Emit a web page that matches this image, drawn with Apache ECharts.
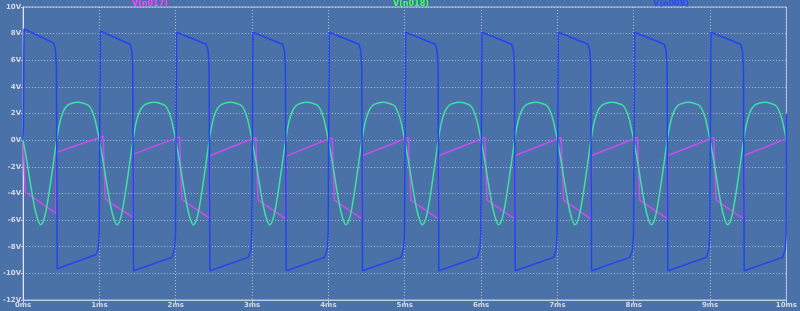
<!DOCTYPE html>
<html>
<head>
<meta charset="utf-8">
<script src="https://cdn.jsdelivr.net/npm/echarts@6/dist/echarts.min.js"></script>
<style>
  html, body { margin: 0; padding: 0; background: #4a72a8; }
  #chart { width: 800px; height: 311px; }
</style>
</head>
<body>
<div id="chart"></div>
<script>
// trace names
const traceNames = ['V(n017)', 'V(n018)', 'V(n008)'];

// axis ticks
const timeTicks = ['0ms', '1ms', '2ms', '3ms', '4ms', '5ms', '6ms', '7ms', '8ms', '9ms', '10ms'];
const voltTicks = [-12, -10, -8, -6, -4, -2, 0, 2, 4, 6, 8, 10];

// magenta trace (ms, V)
const magT = [
    0, 0.03, 0.43, 0.44,
    1.05, 1.065, 1.08, 1.44, 1.447,
    2.05, 2.065, 2.08, 2.44, 2.447,
    3.05, 3.065, 3.08, 3.44, 3.447,
    4.05, 4.065, 4.08, 4.44, 4.447,
    5.05, 5.065, 5.08, 5.44, 5.447,
    6.05, 6.065, 6.08, 6.44, 6.447,
    7.05, 7.065, 7.08, 7.44, 7.447,
    8.05, 8.065, 8.08, 8.44, 8.447,
    9.05, 9.065, 9.08, 9.44, 9.447,
    10
];
const magV = [
    0, -3.9, -5.5, -0.9,
    0.3, -2.5, -4.45, -5.8, -1.05,
    0.25, -2.5, -4.45, -5.85, -1.15,
    0.2, -2.5, -4.5, -5.9, -1.2,
    0.2, -2.5, -4.5, -5.9, -1.15,
    0.2, -2.5, -4.5, -5.9, -1.15,
    0.2, -2.5, -4.5, -5.9, -1.15,
    0.2, -2.5, -4.5, -5.9, -1.15,
    0.2, -2.5, -4.5, -5.9, -1.15,
    0.2, -2.5, -4.5, -5.9, -1.15,
    0.12
];

// green trace (ms, V)
const grnT = [
    0, 0.05, 0.10, 0.15, 0.19, 0.23, 0.27, 0.31, 0.36, 0.40, 0.44, 0.48, 0.53, 0.58, 0.63, 0.72, 0.80, 0.86, 0.90, 0.94, 0.97,
    1, 1.05, 1.10, 1.15, 1.19, 1.23, 1.27, 1.31, 1.36, 1.40, 1.44, 1.48, 1.53, 1.58, 1.63, 1.72, 1.80, 1.86, 1.90, 1.94, 1.97,
    2, 2.05, 2.10, 2.15, 2.19, 2.23, 2.27, 2.31, 2.36, 2.40, 2.44, 2.48, 2.53, 2.58, 2.63, 2.72, 2.80, 2.86, 2.90, 2.94, 2.97,
    3, 3.05, 3.10, 3.15, 3.19, 3.23, 3.27, 3.31, 3.36, 3.40, 3.44, 3.48, 3.53, 3.58, 3.63, 3.72, 3.80, 3.86, 3.90, 3.94, 3.97,
    4, 4.05, 4.10, 4.15, 4.19, 4.23, 4.27, 4.31, 4.36, 4.40, 4.44, 4.48, 4.53, 4.58, 4.63, 4.72, 4.80, 4.86, 4.90, 4.94, 4.97,
    5, 5.05, 5.10, 5.15, 5.19, 5.23, 5.27, 5.31, 5.36, 5.40, 5.44, 5.48, 5.53, 5.58, 5.63, 5.72, 5.80, 5.86, 5.90, 5.94, 5.97,
    6, 6.05, 6.10, 6.15, 6.19, 6.23, 6.27, 6.31, 6.36, 6.40, 6.44, 6.48, 6.53, 6.58, 6.63, 6.72, 6.80, 6.86, 6.90, 6.94, 6.97,
    7, 7.05, 7.10, 7.15, 7.19, 7.23, 7.27, 7.31, 7.36, 7.40, 7.44, 7.48, 7.53, 7.58, 7.63, 7.72, 7.80, 7.86, 7.90, 7.94, 7.97,
    8, 8.05, 8.10, 8.15, 8.19, 8.23, 8.27, 8.31, 8.36, 8.40, 8.44, 8.48, 8.53, 8.58, 8.63, 8.72, 8.80, 8.86, 8.90, 8.94, 8.97,
    9, 9.05, 9.10, 9.15, 9.19, 9.23, 9.27, 9.31, 9.36, 9.40, 9.44, 9.48, 9.53, 9.58, 9.63, 9.72, 9.80, 9.86, 9.90, 9.94, 9.97,
    10
];
const grnV = [
    0, -1.6, -3.4, -5.0, -5.9, -6.35, -6.0, -5.0, -3.2, -1.6, 0, 1.3, 2.2, 2.6, 2.75, 2.85, 2.75, 2.6, 2.25, 1.6, 0.85,
    0, -1.6, -3.4, -5.0, -5.9, -6.35, -6.0, -5.0, -3.2, -1.6, 0, 1.3, 2.2, 2.6, 2.75, 2.85, 2.75, 2.6, 2.25, 1.6, 0.85,
    0, -1.6, -3.4, -5.0, -5.9, -6.35, -6.0, -5.0, -3.2, -1.6, 0, 1.3, 2.2, 2.6, 2.75, 2.85, 2.75, 2.6, 2.25, 1.6, 0.85,
    0, -1.6, -3.4, -5.0, -5.9, -6.35, -6.0, -5.0, -3.2, -1.6, 0, 1.3, 2.2, 2.6, 2.75, 2.85, 2.75, 2.6, 2.25, 1.6, 0.85,
    0, -1.6, -3.4, -5.0, -5.9, -6.35, -6.0, -5.0, -3.2, -1.6, 0, 1.3, 2.2, 2.6, 2.75, 2.85, 2.75, 2.6, 2.25, 1.6, 0.85,
    0, -1.6, -3.4, -5.0, -5.9, -6.35, -6.0, -5.0, -3.2, -1.6, 0, 1.3, 2.2, 2.6, 2.75, 2.85, 2.75, 2.6, 2.25, 1.6, 0.85,
    0, -1.6, -3.4, -5.0, -5.9, -6.35, -6.0, -5.0, -3.2, -1.6, 0, 1.3, 2.2, 2.6, 2.75, 2.85, 2.75, 2.6, 2.25, 1.6, 0.85,
    0, -1.6, -3.4, -5.0, -5.9, -6.35, -6.0, -5.0, -3.2, -1.6, 0, 1.3, 2.2, 2.6, 2.75, 2.85, 2.75, 2.6, 2.25, 1.6, 0.85,
    0, -1.6, -3.4, -5.0, -5.9, -6.35, -6.0, -5.0, -3.2, -1.6, 0, 1.3, 2.2, 2.6, 2.75, 2.85, 2.75, 2.6, 2.25, 1.6, 0.85,
    0, -1.6, -3.4, -5.0, -5.9, -6.35, -6.0, -5.0, -3.2, -1.6, 0, 1.3, 2.2, 2.6, 2.75, 2.85, 2.75, 2.6, 2.25, 1.6, 0.85,
    0
];

// blue trace (ms, V)
const bluT = [
    0, 0.004, 0.012, 0.40, 0.425, 0.437, 0.447, 0.95, 0.985, 0.997,
    1.012, 1.40, 1.425, 1.437, 1.447, 1.95, 1.985, 1.997,
    2.012, 2.40, 2.425, 2.437, 2.447, 2.95, 2.985, 2.997,
    3.012, 3.40, 3.425, 3.437, 3.447, 3.95, 3.985, 3.997,
    4.012, 4.40, 4.425, 4.437, 4.447, 4.95, 4.985, 4.997,
    5.012, 5.40, 5.425, 5.437, 5.447, 5.95, 5.985, 5.997,
    6.012, 6.40, 6.425, 6.437, 6.447, 6.95, 6.985, 6.997,
    7.012, 7.40, 7.425, 7.437, 7.447, 7.95, 7.985, 7.997,
    8.012, 8.40, 8.425, 8.437, 8.447, 8.95, 8.985, 8.997,
    9.012, 9.40, 9.425, 9.437, 9.447, 9.95, 9.985, 9.997,
    10
];
const bluV = [
    0, 1.0, 8.35, 7.3, 6.8, 5.5, -9.65, -8.6, -8.2, -7.0,
    8.2, 7.2, 6.7, 5.5, -9.8, -8.8, -8.2, -7.0,
    8.1, 7.2, 6.7, 5.5, -9.8, -8.8, -8.2, -7.0,
    8.1, 7.2, 6.7, 5.5, -9.8, -8.8, -8.2, -7.0,
    8.1, 7.2, 6.7, 5.5, -9.8, -8.8, -8.2, -7.0,
    8.1, 7.2, 6.7, 5.5, -9.8, -8.8, -8.2, -7.0,
    8.1, 7.2, 6.7, 5.5, -9.8, -8.8, -8.2, -7.0,
    8.1, 7.2, 6.7, 5.5, -9.8, -8.8, -8.2, -7.0,
    8.1, 7.2, 6.7, 5.5, -9.8, -8.8, -8.2, -7.0,
    8.1, 7.2, 6.7, 5.5, -9.8, -8.8, -8.2, -7.0,
    2
];

const pair = (ts, vs) => ts.map((t, i) => [t, vs[i]]);

const chart = echarts.init(document.getElementById('chart'));
const labelColor = '#d4dbe8';
const gridColor = 'rgba(205,214,230,0.75)';

const option = {
    animation: false,
    backgroundColor: '#4a72a8',
    grid: {
        left: 16, right: 8, top: 7, bottom: 11,
        show: true, borderColor: '#b9c5d9', borderWidth: 1
    },
    graphic: [
        { type: 'text', left: 132, top: 0, style: { text: traceNames[0], fill: '#ff44ff', font: 'bold 8px "DejaVu Sans"' } },
        { type: 'text', left: 393, top: 0, style: { text: traceNames[1], fill: '#44ff66', font: 'bold 8px "DejaVu Sans"' } },
        { type: 'text', left: 653, top: 0, style: { text: traceNames[2], fill: '#2a48ff', font: 'bold 8px "DejaVu Sans"' } }
    ],
    xAxis: {
        type: 'value', min: 0, max: 10, interval: 1,
        axisLine: { show: true, onZero: false, lineStyle: { color: '#c4cddd' } },
        axisTick: { show: true, length: 3, lineStyle: { color: '#c4cddd' } },
        axisLabel: {
            color: labelColor, fontSize: 7, fontWeight: 'bold', margin: 2,
            fontFamily: 'DejaVu Sans',
            formatter: v => timeTicks[Math.round(v)]
        },
        splitLine: { show: true, lineStyle: { color: gridColor, type: [1, 2], width: 1 } }
    },
    yAxis: {
        type: 'value', min: voltTicks[0], max: voltTicks[voltTicks.length - 1], interval: 2,
        axisLine: { show: true, onZero: false, lineStyle: { color: '#dfe5ef' } },
        axisTick: { show: true, length: 2, lineStyle: { color: '#c4cddd' } },
        axisLabel: {
            color: labelColor, fontSize: 7, fontWeight: 'bold', margin: 2,
            fontFamily: 'DejaVu Sans',
            formatter: v => v + 'V'
        },
        splitLine: { show: true, lineStyle: { color: gridColor, type: [1, 2], width: 1 } }
    },
    series: [
        {
            name: traceNames[0], type: 'line', data: pair(magT, magV),
            showSymbol: false, lineStyle: { color: '#c94cf0', width: 1.5 }
        },
        {
            name: traceNames[1], type: 'line', data: pair(grnT, grnV),
            showSymbol: false, smooth: 0.35, lineStyle: { color: '#3fe0a0', width: 1.5 }
        },
        {
            name: traceNames[2], type: 'line', data: pair(bluT, bluV),
            showSymbol: false, lineStyle: { color: '#2444f0', width: 1.5 }
        }
    ]
};

chart.setOption(option);
</script>
</body>
</html>
